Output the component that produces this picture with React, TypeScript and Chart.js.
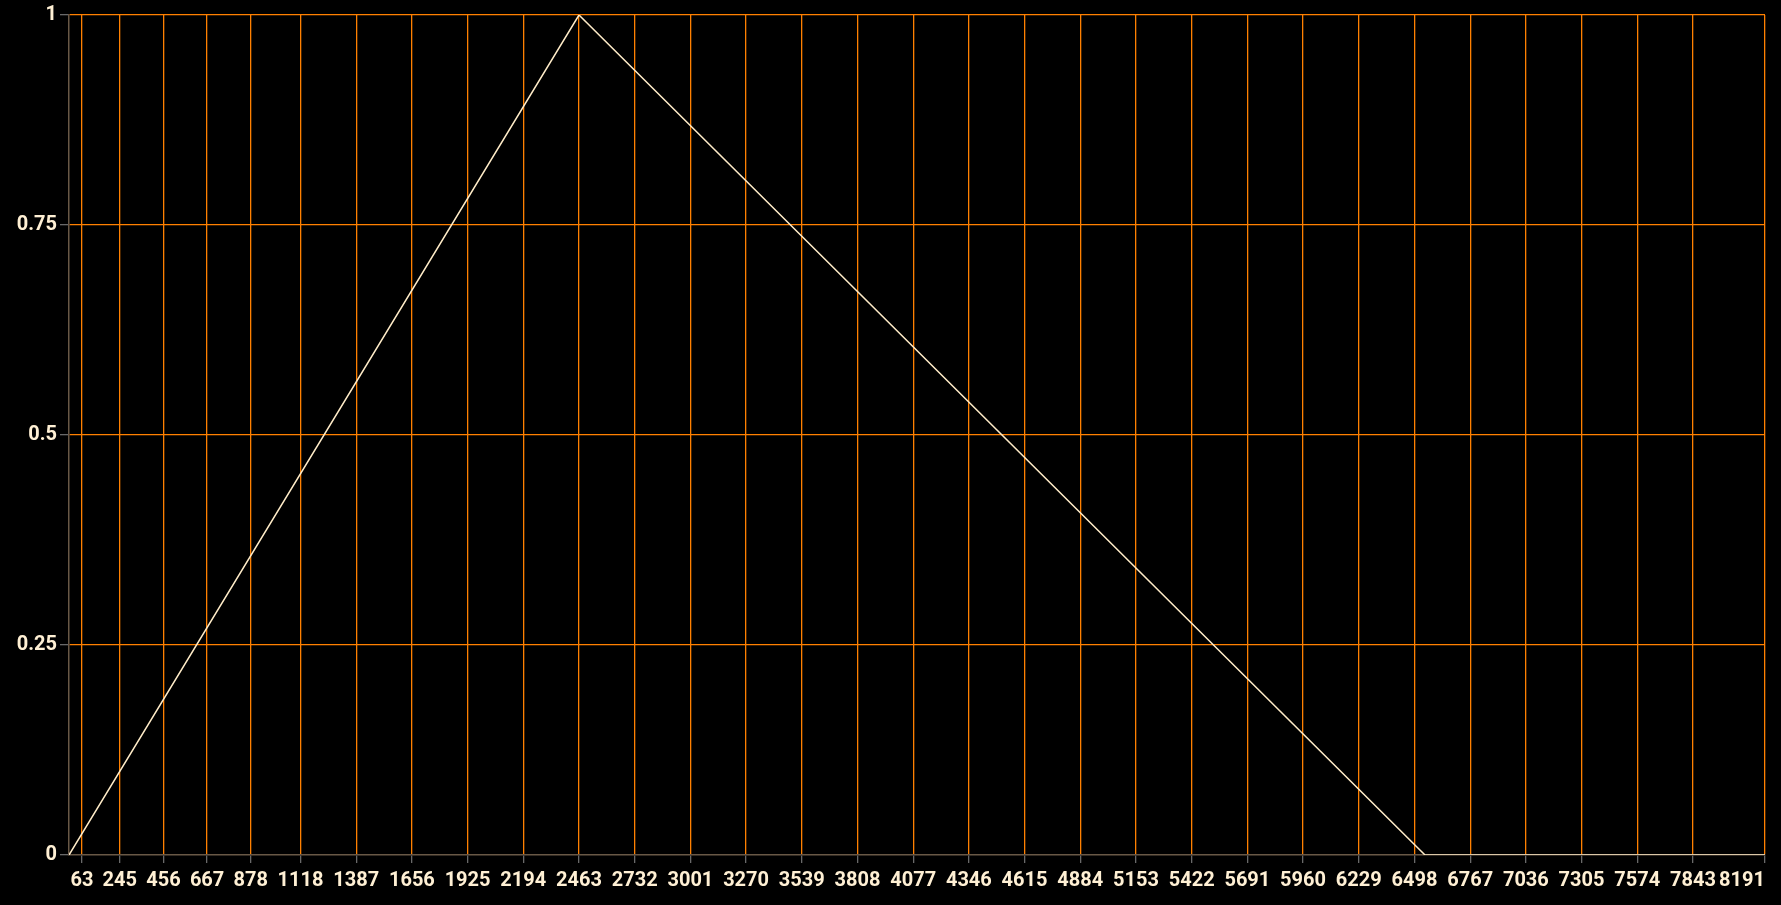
import React, { useEffect, useRef } from 'react';
import { Chart, registerables } from 'chart.js';

Chart.register(...registerables);

const xTickValues = [
  63, 245, 456, 667, 878, 1118, 1387, 1656, 1925, 2194, 2463, 2732, 3001, 3270, 3539, 3808,
  4077, 4346, 4615, 4884, 5153, 5422, 5691, 5960, 6229, 6498, 6767, 7036, 7305, 7574, 7843, 8191,
];
const yTickValues = [0, 0.25, 0.5, 0.75, 1];
const seriesX = [0, 2463, 6549, 8191];
const seriesY = [0, 1, 0, 0];

const ORANGE = 'rgb(255,128,0)';
const BORDER = 'rgb(105,88,70)';
const TICKMARK = 'rgb(105,105,105)';
const TEXT = 'rgb(255,240,212)';
const LINE = 'rgb(255,236,200)';
const FONT = { family: 'Roboto, "Noto Sans", sans-serif', size: 20, weight: 'bold' as const };

export default function App() {
  const ref = useRef<HTMLCanvasElement>(null);

  useEffect(() => {
    document.body.style.margin = '0';
    document.body.style.background = '#000';
    const chart = new Chart(ref.current as HTMLCanvasElement, {
      type: 'line',
      data: {
        datasets: [
          {
            data: seriesX.map((x, i) => ({ x, y: seriesY[i] })),
            borderColor: LINE,
            borderWidth: 1.5,
            pointRadius: 0,
            tension: 0,
            fill: false,
          },
        ],
      },
      options: {
        animation: false,
        responsive: false,
        maintainAspectRatio: false,
        layout: { padding: { top: 15, right: 16, left: 0, bottom: 0 } },
        plugins: { legend: { display: false }, tooltip: { enabled: false } },
        scales: {
          x: {
            type: 'linear',
            min: 0,
            max: 8191,
            afterBuildTicks: (s: any) => {
              s.ticks = [0, ...xTickValues].map((v) => ({ value: v }));
            },
            ticks: {
              autoSkip: false,
              maxRotation: 0,
              minRotation: 0,
              align: 'inner',
              padding: 6,
              color: TEXT,
              font: FONT,
              callback: (v: any) => (v === 0 ? '' : String(v)),
            },
            grid: {
              color: (ctx: any) => (ctx.tick && ctx.tick.value === 0 ? 'rgba(0,0,0,0)' : ORANGE),
              tickColor: (ctx: any) => (ctx.tick && ctx.tick.value === 0 ? 'rgba(0,0,0,0)' : TICKMARK),
              tickLength: 8,
              lineWidth: 1.3,
            },
            border: { color: BORDER, width: 1.5 },
            afterFit: (s: any) => {
              s.height = 50;
              s.paddingLeft = 0;
              s.paddingRight = 0;
            },
          },
          y: {
            type: 'linear',
            min: 0,
            max: 1,
            afterBuildTicks: (s: any) => {
              s.ticks = yTickValues.map((v) => ({ value: v }));
            },
            ticks: {
              padding: 3,
              color: TEXT,
              font: FONT,
              callback: (v: any) => String(v),
            },
            grid: {
              color: (ctx: any) => (ctx.tick && ctx.tick.value === 0 ? 'rgba(0,0,0,0)' : ORANGE),
              tickColor: TICKMARK,
              tickLength: 9,
              lineWidth: 1.3,
            },
            border: { color: BORDER, width: 1.5 },
            afterFit: (s: any) => {
              s.width = 69;
              s.paddingTop = 0;
              s.paddingBottom = 0;
            },
          },
        },
      },
    });
    return () => chart.destroy();
  }, []);

  return (
    <div style={{ width: 1781, height: 905, background: '#000' }}>
      <canvas ref={ref} width={1781} height={905} style={{ display: 'block' }} />
    </div>
  );
}
